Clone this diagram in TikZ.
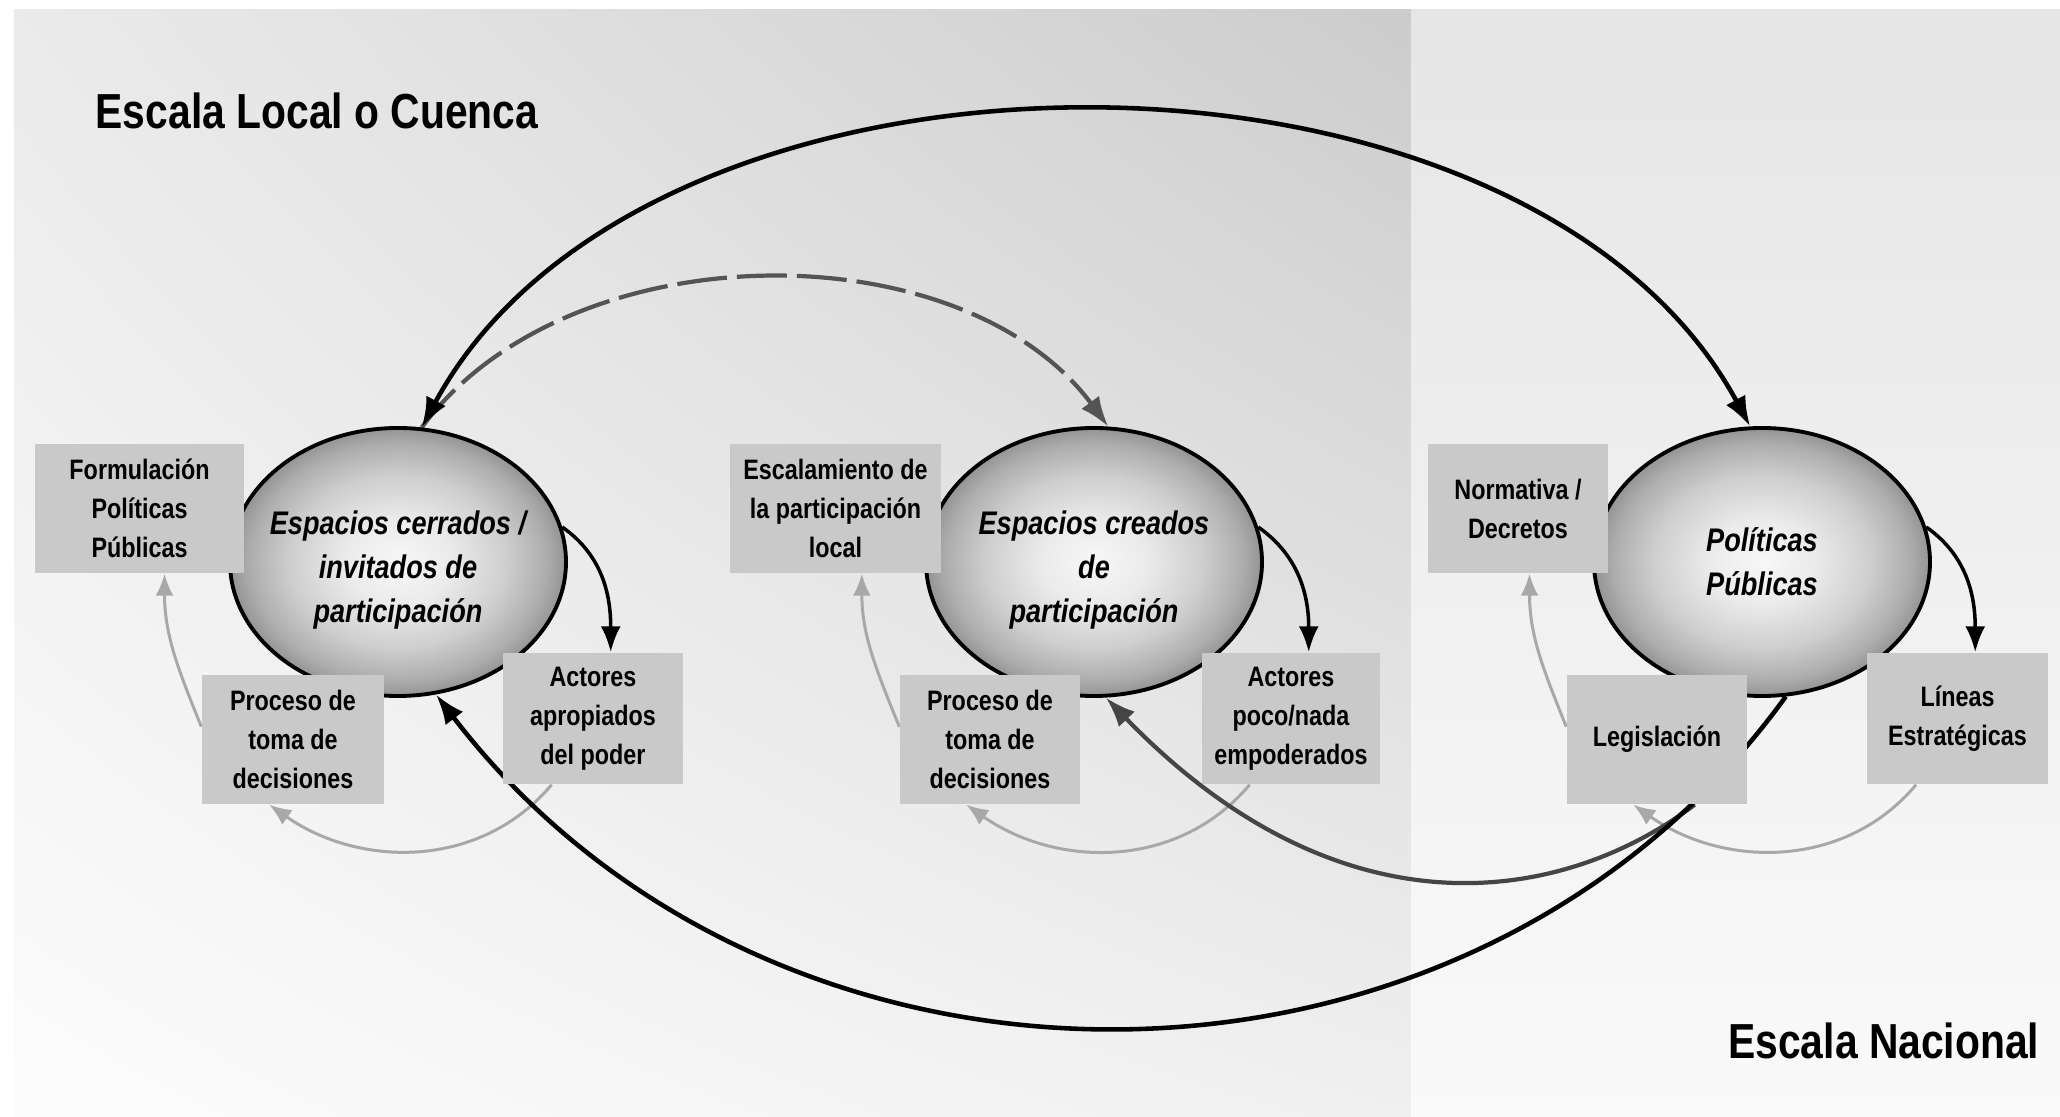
\documentclass[tikz,border=0pt]{standalone}
\usepackage{fontspec}
\newfontfamily\diagfont{Liberation Sans}[FakeStretch=0.83]
\usetikzlibrary{arrows.meta, shapes.geometric, shadings}

\definecolor{boxgray}{gray}{0.79}
\definecolor{lightarrow}{gray}{0.66}
\definecolor{darkarc}{gray}{0.27}
\definecolor{dasharc}{gray}{0.33}

\pgfdeclareradialshading{ballgray}{\pgfpoint{0bp}{0bp}}{color(0bp)=(black!3); color(8bp)=(black!8); color(16bp)=(black!19); color(22bp)=(black!32); color(25bp)=(black!42); color(50bp)=(black!42)}

\pgfdeclarelayer{panel}
\pgfdeclarelayer{links}
\pgfsetlayers{panel,links,main}

\begin{document}
\begin{tikzpicture}[
    font=\diagfont\bfseries,
    espacio/.style={
        ellipse,
        draw=black,
        line width=1.1pt,
        shade,
        shading=ballgray,
        minimum width=3.36cm,
        minimum height=2.68cm,
        inner sep=0pt
    },
    textoesp/.style={
        inner sep=0pt,
        align=center,
        font=\diagfont\bfseries\itshape\fontsize{9.3}{12.5}\selectfont
    },
    cuadro/.style={
        fill=boxgray,
        minimum width=1.8cm,
        minimum height=1.29cm,
        inner sep=0pt,
        align=center,
        font=\diagfont\bfseries\fontsize{8}{11.1}\selectfont
    },
    escala/.style={
        inner sep=0pt,
        font=\diagfont\bfseries\fontsize{14}{17}\selectfont
    },
    arco/.style={
        draw=black,
        line width=1.3pt
    },
    arcomedio/.style={
        draw=darkarc,
        line width=1.2pt,
        -{Latex[length=3mm,width=2.2mm]}
    },
    discontinua/.style={
        draw=dasharc,
        line width=1.2pt,
        dash pattern=on 5mm off 1mm,
        -{Latex[length=3mm,width=2.2mm]}
    },
    corta/.style={
        draw=black,
        line width=1pt,
        -{Latex[length=2.6mm,width=2mm]}
    },
    retro/.style={
        draw=lightarrow,
        line width=0.85pt,
        -{Latex[length=2.2mm,width=1.8mm]}
    }
]

\useasboundingbox (0,0) rectangle (20.60,11.17);

% paneles de fondo
\begin{pgfonlayer}{panel}
    \shade[upper left=black!8, upper right=black!20, lower left=black!1, lower right=black!6]
        (0.14,0) rectangle (14.11,11.07);
    \shade[top color=black!10, bottom color=black!2] (14.11,0) rectangle (20.60,11.07);
\end{pgfonlayer}

\node[escala, anchor=base west] (local) at (0.95,9.88) {Escala Local o Cuenca};
\node[escala, anchor=base east] (nacional) at (20.40,0.58) {Escala Nacional};

% espacios
\node[espacio] (e1) at (3.98,5.55) {};
\node[espacio] (e2) at (10.94,5.55) {};
\node[espacio] (e3) at (17.62,5.55) {};
\node[textoesp] (t1) at ([yshift=-0.08cm]e1.center) {Espacios cerrados /\\invitados de\\participación};
\node[textoesp] (t2) at ([yshift=-0.08cm]e2.center) {Espacios creados\\de\\participación};
\node[textoesp] (t3) at (e3.center) {Políticas\\Públicas};

% cuadros
\node[cuadro, minimum width=2.09cm] (f1) at (1.395,6.085) {Formulación\\Políticas\\Públicas};
\node[cuadro, minimum width=1.82cm] (p1) at (2.93,3.775) {Proceso de\\toma de\\decisiones};
\node[cuadro, minimum height=1.31cm] (a1) at (5.93,3.985) {Actores\\apropiados\\del poder};

\node[cuadro, minimum width=2.11cm] (f2) at (8.355,6.085) {Escalamiento de\\la participación\\local};
\node[cuadro] (p2) at (9.90,3.775) {Proceso de\\toma de\\decisiones};
\node[cuadro, minimum width=1.78cm, minimum height=1.31cm] (a2) at (12.91,3.985) {Actores\\poco/nada\\empoderados};

\node[cuadro] (f3) at (15.18,6.085) {Normativa /\\Decretos};
\node[cuadro] (p3) at (16.57,3.775) {Legislación};
\node[cuadro, minimum width=1.81cm, minimum height=1.31cm] (a3) at (19.575,3.985) {Líneas\\Estratégicas};

% conexiones
\begin{pgfonlayer}{links}
    \foreach \p/\f/\ang in {p1/f1/-69, p2/f2/-68, p3/f3/-80}
        \draw[retro] (\p.172) to[out=112, in=-90] (\f.\ang);
    \foreach \a/\p in {a1/p1, a2/p2, a3/p3}
        \draw[retro] (\a.-122) to[out=-130, in=-35] (\p.-110);
    \foreach \e/\a in {e1/a1, e2/a2, e3/a3}
        \draw[corta] (\e.12) to[out=-35, in=90] (\a.75);

    \draw[discontinua] (e1.80) .. controls +(1.47,1.98) and +(-1.47,1.98) .. (e2.84);
    \draw[arco, {Latex[length=3mm,width=2.2mm]}-{Latex[length=3mm,width=2.2mm]}]
        (e1.80) .. controls +(2.26,4.18) and +(-2.26,4.18) .. (e3.95);
    \draw[arcomedio] (p3.-60) .. controls +(-1.34,-1.01) and +(2.34,-2.42) .. (e2.-85);
    \draw[arco, -{Latex[length=3mm,width=2.2mm]}]
        (e3.-80) .. controls +(-3.18,-4.40) and +(3.39,-4.43) .. (e1.-74);
\end{pgfonlayer}

\end{tikzpicture}
\end{document}
